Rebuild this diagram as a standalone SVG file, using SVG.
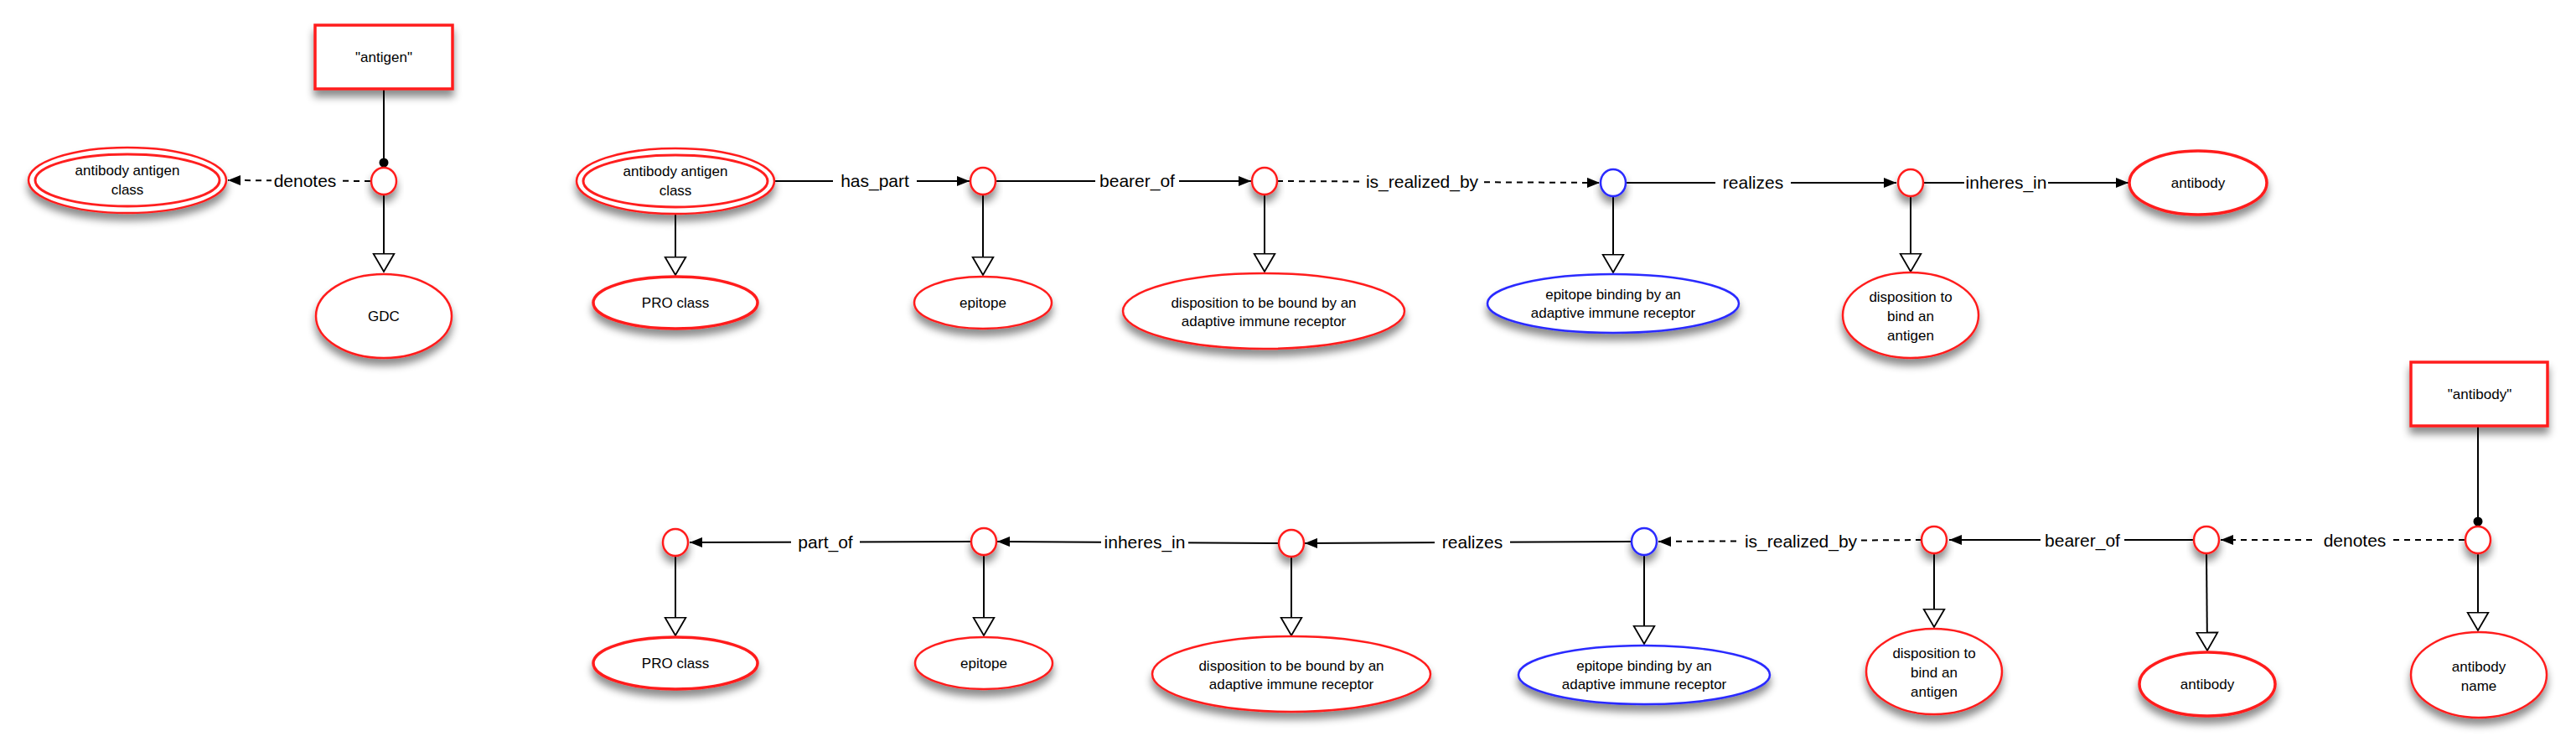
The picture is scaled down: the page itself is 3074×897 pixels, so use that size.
<svg xmlns="http://www.w3.org/2000/svg" width="3074" height="897" viewBox="0 0 3074 897">
<defs>
<filter id="sh" x="-30%" y="-30%" width="160%" height="180%">
<feDropShadow dx="0" dy="8" stdDeviation="5" flood-color="#000" flood-opacity="0.45"/>
</filter>
<marker id="arr" viewBox="0 0 15 12" refX="15" refY="6" markerWidth="15" markerHeight="12" markerUnits="userSpaceOnUse" orient="auto">
<path d="M0,0 L15,6 L0,12 z" fill="#000"/>
</marker>
<marker id="tri" viewBox="0 0 24 28" refX="22.5" refY="14" markerWidth="24" markerHeight="28" markerUnits="userSpaceOnUse" orient="auto">
<path d="M1,1.5 L22.5,14 L1,26.5 z" fill="#fff" stroke="#000" stroke-width="1.8"/>
</marker>
<marker id="dot" viewBox="0 0 12 12" refX="6" refY="6" markerWidth="12" markerHeight="12" markerUnits="userSpaceOnUse" orient="auto">
<circle cx="6" cy="6" r="5.5" fill="#000"/>
</marker>
</defs>
<style>
.r{fill:#fff;stroke:#ff1f1f;stroke-width:2.5;filter:url(#sh)}
.rt{fill:#fff;stroke:#ff1f1f;stroke-width:3.5;filter:url(#sh)}
.b{fill:#fff;stroke:#2b2bff;stroke-width:2.5;filter:url(#sh)}
.in{fill:none;stroke:#ff1f1f;stroke-width:3}
.t{font-family:"Liberation Sans",Arial,sans-serif;font-size:17px;fill:#000;text-anchor:middle}
.lb{font-family:"Liberation Sans",Arial,sans-serif;font-size:21px;fill:#000;text-anchor:middle}
.e{fill:none;stroke:#000;stroke-width:2}
.d{fill:none;stroke:#000;stroke-width:2;stroke-dasharray:7,6}
.a{marker-end:url(#arr)}
.h{marker-end:url(#tri)}
.o{marker-end:url(#dot)}
.bg{fill:#fff}
</style>

<g id="connectors">
<!-- top left -->
<line class="e o" x1="458" y1="106" x2="458" y2="194"/>
<line class="d a" x1="442" y1="216" x2="272" y2="215"/>
<line class="e h" x1="458" y1="232" x2="458" y2="324"/>
<!-- top row -->
<line class="e h" x1="806" y1="255" x2="806" y2="328"/>
<line class="e a" x1="924" y1="216" x2="1157" y2="216"/>
<line class="e h" x1="1173" y1="232" x2="1173" y2="328"/>
<line class="e a" x1="1188" y1="216" x2="1493" y2="216"/>
<line class="e h" x1="1509" y1="232" x2="1509" y2="324"/>
<line class="d a" x1="1524" y1="216" x2="1909" y2="218"/>
<line class="e h" x1="1925" y1="234" x2="1925" y2="325"/>
<line class="e a" x1="1941" y1="218" x2="2263" y2="218"/>
<line class="e h" x1="2280" y1="234" x2="2280" y2="324"/>
<line class="e a" x1="2296" y1="218" x2="2540" y2="218"/>
<!-- bottom row -->
<line class="e o" x1="2957" y1="508" x2="2957" y2="622"/>
<line class="e h" x1="2957" y1="660" x2="2957" y2="752"/>
<line class="d a" x1="2941" y1="644" x2="2650" y2="644"/>
<line class="e h" x1="2633" y1="660" x2="2634" y2="776"/>
<line class="e a" x1="2618" y1="644" x2="2326" y2="644"/>
<line class="e h" x1="2308" y1="660" x2="2308" y2="748"/>
<line class="d a" x1="2293" y1="644" x2="1979" y2="646"/>
<line class="e h" x1="1962" y1="662" x2="1962" y2="768"/>
<line class="e a" x1="1946" y1="646" x2="1557" y2="648"/>
<line class="e h" x1="1541" y1="664" x2="1541" y2="758"/>
<line class="e a" x1="1525" y1="648" x2="1190" y2="646"/>
<line class="e h" x1="1174" y1="662" x2="1174" y2="758"/>
<line class="e a" x1="1159" y1="646" x2="823" y2="647"/>
<line class="e h" x1="806" y1="663" x2="806" y2="758"/>
<!-- labels -->
<rect class="bg" x="324" y="200" width="80" height="30"/><text class="lb" x="364" y="223">denotes</text>
<rect class="bg" x="994" y="200" width="100" height="30"/><text class="lb" x="1044" y="223">has_part</text>
<rect class="bg" x="1307" y="200" width="100" height="30"/><text class="lb" x="1357" y="223">bearer_of</text>
<rect class="bg" x="1625" y="200" width="144" height="30"/><text class="lb" x="1697" y="224">is_realized_by</text>
<rect class="bg" x="2047" y="202" width="90" height="30"/><text class="lb" x="2092" y="225">realizes</text>
<rect class="bg" x="2344" y="202" width="100" height="30"/><text class="lb" x="2394" y="225">inheres_in</text>
<rect class="bg" x="2765" y="629" width="90" height="30"/><text class="lb" x="2810" y="652">denotes</text>
<rect class="bg" x="2435" y="629" width="100" height="30"/><text class="lb" x="2485" y="652">bearer_of</text>
<rect class="bg" x="2077" y="630" width="144" height="30"/><text class="lb" x="2149" y="653">is_realized_by</text>
<rect class="bg" x="1712" y="632" width="90" height="30"/><text class="lb" x="1757" y="654">realizes</text>
<rect class="bg" x="1314" y="632" width="104" height="30"/><text class="lb" x="1366" y="654">inheres_in</text>
<rect class="bg" x="944" y="632" width="82" height="30"/><text class="lb" x="985" y="654">part_of</text>
</g>

<!-- top left group -->
<g id="n_antigen_term"><rect class="rt" x="376" y="30" width="164" height="76"/><text class="t" x="458" y="74">"antigen"</text></g>
<g id="n_c0"><ellipse class="r" cx="458" cy="216" rx="15" ry="16"/></g>
<g id="n_gdc"><ellipse class="r" cx="458" cy="377" rx="81" ry="50"/><text class="t" x="458" y="383">GDC</text></g>
<g id="n_aac1"><ellipse class="r" cx="152" cy="215" rx="118" ry="39" stroke-width="3"/><ellipse class="in" cx="152" cy="215" rx="110" ry="31"/><text class="t" x="152" y="209">antibody antigen</text><text class="t" x="152" y="232">class</text></g>

<!-- top row -->
<g id="n_aac2"><ellipse class="r" cx="806" cy="216" rx="118" ry="39" stroke-width="3"/><ellipse class="in" cx="806" cy="216" rx="110" ry="31"/><text class="t" x="806" y="210">antibody antigen</text><text class="t" x="806" y="233">class</text></g>
<g id="n_pro1"><ellipse class="rt" cx="806" cy="361" rx="98" ry="31"/><text class="t" x="806" y="367">PRO class</text></g>
<g id="n_c1"><ellipse class="r" cx="1173" cy="216" rx="15" ry="16"/></g>
<g id="n_epi1"><ellipse class="r" cx="1173" cy="361" rx="82" ry="31"/><text class="t" x="1173" y="367">epitope</text></g>
<g id="n_c2"><ellipse class="r" cx="1509" cy="216" rx="15" ry="16"/></g>
<g id="n_disp1"><ellipse class="r" cx="1508" cy="371" rx="168" ry="45"/><text class="t" x="1508" y="367">disposition to be bound by an</text><text class="t" x="1508" y="389">adaptive immune receptor</text></g>
<g id="n_c3"><ellipse class="b" cx="1925" cy="218" rx="15" ry="16"/></g>
<g id="n_ebind1"><ellipse class="b" cx="1925" cy="362" rx="150" ry="35"/><text class="t" x="1925" y="357">epitope binding by an</text><text class="t" x="1925" y="379">adaptive immune receptor</text></g>
<g id="n_c4"><ellipse class="r" cx="2280" cy="218" rx="15" ry="16"/></g>
<g id="n_dba1"><ellipse class="r" cx="2280" cy="376" rx="81" ry="51"/><text class="t" x="2280" y="360">disposition to</text><text class="t" x="2280" y="383">bind an</text><text class="t" x="2280" y="406">antigen</text></g>
<g id="n_antibody1"><ellipse class="rt" cx="2623" cy="218" rx="82" ry="38"/><text class="t" x="2623" y="224">antibody</text></g>

<!-- bottom row -->
<g id="n_antibody_term"><rect class="rt" x="2877" y="432" width="163" height="76"/><text class="t" x="2959" y="476">"antibody"</text></g>
<g id="n_c5"><ellipse class="r" cx="2957" cy="644" rx="15" ry="16"/></g>
<g id="n_abname"><ellipse class="r" cx="2958" cy="805" rx="81" ry="51"/><text class="t" x="2958" y="801">antibody</text><text class="t" x="2958" y="824">name</text></g>
<g id="n_c6"><ellipse class="r" cx="2633" cy="644" rx="15" ry="16"/></g>
<g id="n_antibody2"><ellipse class="rt" cx="2634" cy="816" rx="81" ry="38"/><text class="t" x="2634" y="822">antibody</text></g>
<g id="n_c7"><ellipse class="r" cx="2308" cy="644" rx="15" ry="16"/></g>
<g id="n_dba2"><ellipse class="r" cx="2308" cy="801" rx="81" ry="51"/><text class="t" x="2308" y="785">disposition to</text><text class="t" x="2308" y="808">bind an</text><text class="t" x="2308" y="831">antigen</text></g>
<g id="n_c8"><ellipse class="b" cx="1962" cy="646" rx="15" ry="16"/></g>
<g id="n_ebind2"><ellipse class="b" cx="1962" cy="805" rx="150" ry="35"/><text class="t" x="1962" y="800">epitope binding by an</text><text class="t" x="1962" y="822">adaptive immune receptor</text></g>
<g id="n_c9"><ellipse class="r" cx="1541" cy="648" rx="15" ry="16"/></g>
<g id="n_disp2"><ellipse class="r" cx="1541" cy="804" rx="166" ry="45"/><text class="t" x="1541" y="800">disposition to be bound by an</text><text class="t" x="1541" y="822">adaptive immune receptor</text></g>
<g id="n_c10"><ellipse class="r" cx="1174" cy="646" rx="15" ry="16"/></g>
<g id="n_epi2"><ellipse class="r" cx="1174" cy="791" rx="82" ry="31"/><text class="t" x="1174" y="797">epitope</text></g>
<g id="n_c11"><ellipse class="r" cx="806" cy="647" rx="15" ry="16"/></g>
<g id="n_pro2"><ellipse class="rt" cx="806" cy="791" rx="98" ry="31"/><text class="t" x="806" y="797">PRO class</text></g>
</svg>
